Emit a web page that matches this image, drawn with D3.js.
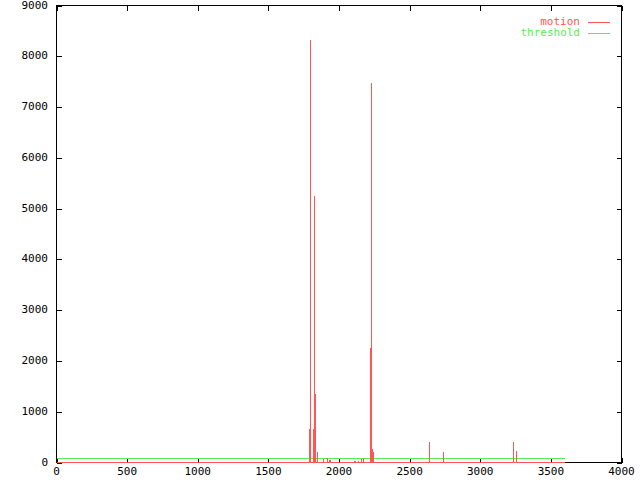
<!DOCTYPE html>
<html>
  <head>
    <script src="https://d3js.org/d3.v7.min.js"></script>
    <style>
      body { margin: 0; background: #fff; }
      text {
        font: 11px "DejaVu Sans Mono", monospace;
      }
      .border, .tick {
        fill: none;
        stroke: #000;
        shape-rendering: crispEdges;
      }
      .motion {
        stroke: #ff5555;
        fill: none;
        shape-rendering: crispEdges;
      }
      .threshold {
        stroke: #55ee55;
        fill: none;
        shape-rendering: crispEdges;
      }
    </style>
  </head>
  <body>
    <script>
      // motion spikes (frame, value); everything else is 0
      var frames = [1788, 1797, 1816, 1825, 1832, 1841, 1887, 1915, 1926, 1936,
                    2103, 2110, 2138, 2154, 2170, 2205, 2222, 2229, 2234, 2242,
                    2635, 2738, 3234, 3255];
      var motion = [650, 8320, 650, 5240, 1340, 200, 60, 85, 40, 40,
                    20, 20, 20, 60, 90, 10, 2250, 7470, 270, 200,
                    400, 200, 410, 235];
      var lastFrame = 3600;
      var threshold = 90;

      var xTicks = [0, 500, 1000, 1500, 2000, 2500, 3000, 3500, 4000];
      var yTicks = [0, 1000, 2000, 3000, 4000, 5000, 6000, 7000, 8000, 9000];

      var W = 640, H = 480;
      var pLeft = 56.5, pRight = 621.5, pTop = 5.5, pBottom = 462.5;

      var x = d3.scaleLinear().domain([0, 4000]).range([pLeft, pRight]);
      var y = d3.scaleLinear().domain([0, 9000]).range([pBottom, pTop]);

      var svg = d3.select("body").append("svg")
        .attr("width", W)
        .attr("height", H);

      // border
      svg.append("rect").attr("class", "border")
        .attr("x", pLeft).attr("y", pTop)
        .attr("width", pRight - pLeft).attr("height", pBottom - pTop);

      // ticks on all four sides, pointing inward
      var tl = 5;
      xTicks.forEach(function(t) {
        var px = Math.round(x(t)) + 0.5;
        svg.append("line").attr("class", "tick")
          .attr("x1", px).attr("x2", px).attr("y1", pBottom).attr("y2", pBottom - tl);
        svg.append("line").attr("class", "tick")
          .attr("x1", px).attr("x2", px).attr("y1", pTop).attr("y2", pTop + tl);
        svg.append("text")
          .attr("x", x(t))
          .attr("y", 472)
          .attr("text-anchor", "middle")
          .attr("dominant-baseline", "middle")
          .text(t);
      });
      yTicks.forEach(function(t) {
        var py = Math.round(y(t)) + 0.5;
        svg.append("line").attr("class", "tick")
          .attr("x1", pLeft).attr("x2", pLeft + tl).attr("y1", py).attr("y2", py);
        svg.append("line").attr("class", "tick")
          .attr("x1", pRight).attr("x2", pRight - tl).attr("y1", py).attr("y2", py);
        svg.append("text")
          .attr("x", 48)
          .attr("y", y(t))
          .attr("text-anchor", "end")
          .attr("dominant-baseline", "middle")
          .text(t);
      });

      // threshold line
      svg.append("line").attr("class", "threshold")
        .attr("x1", x(0)).attr("x2", x(lastFrame))
        .attr("y1", Math.round(y(threshold)) + 0.5)
        .attr("y2", Math.round(y(threshold)) + 0.5);

      // motion baseline and impulses, drawn over the bottom border
      svg.append("line").attr("class", "motion")
        .attr("x1", x(0)).attr("x2", x(lastFrame))
        .attr("y1", y(0)).attr("y2", y(0));

      svg.selectAll(".imp")
        .data(frames.map(function(f, i) { return [f, motion[i]]; }))
        .enter().append("line")
        .attr("class", "motion")
        .attr("x1", function(d) { return Math.round(x(d[0])) + 0.5; })
        .attr("x2", function(d) { return Math.round(x(d[0])) + 0.5; })
        .attr("y1", y(0))
        .attr("y2", function(d) { return y(d[1]); });

      // legend
      var legend = [["motion", "#ff5555"], ["threshold", "#55ee55"]];
      legend.forEach(function(d, i) {
        var ly = 22 + i * 11;
        svg.append("text")
          .attr("x", 580).attr("y", ly)
          .attr("text-anchor", "end")
          .attr("dominant-baseline", "middle")
          .attr("fill", d[1])
          .text(d[0]);
        svg.append("line")
          .attr("x1", 588).attr("x2", 610)
          .attr("y1", Math.round(ly) + 0.5).attr("y2", Math.round(ly) + 0.5)
          .attr("stroke", d[1])
          .attr("shape-rendering", "crispEdges");
      });
    </script>
  </body>
</html>
